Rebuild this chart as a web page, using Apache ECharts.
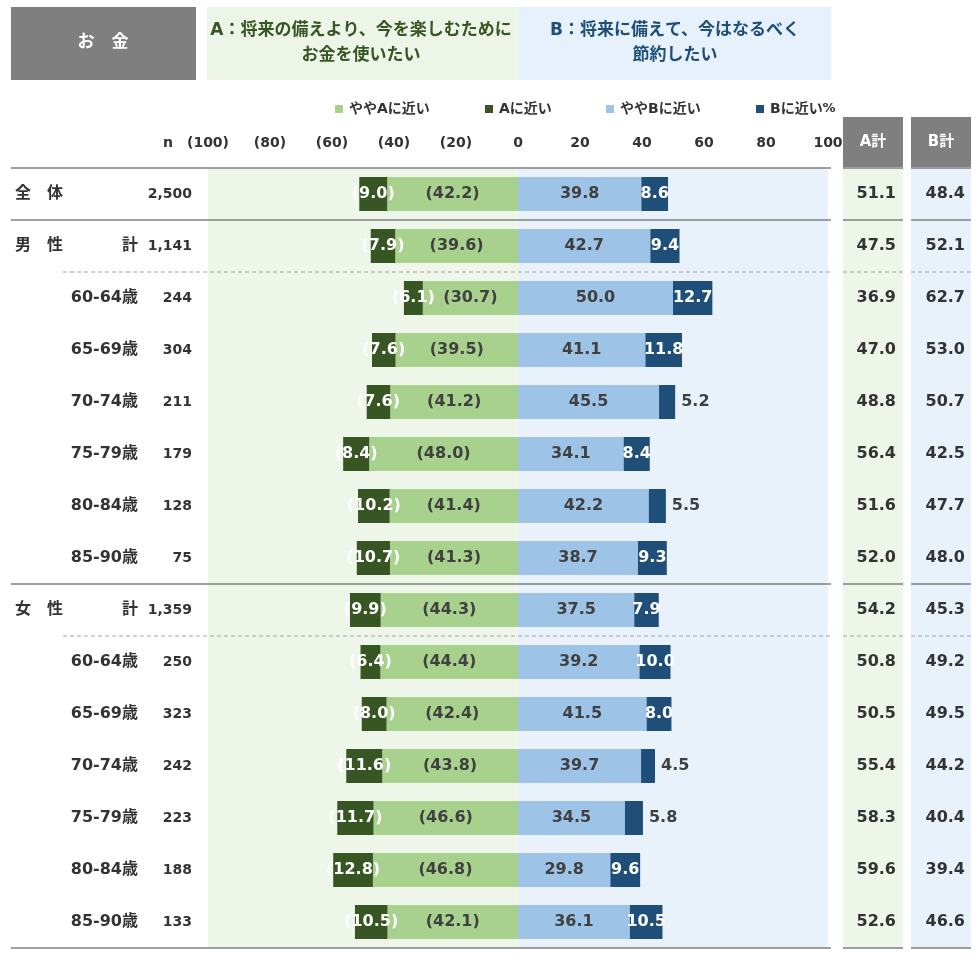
<!DOCTYPE html>
<html>
<head>
<meta charset="utf-8">
<script src="https://cdn.jsdelivr.net/npm/echarts@6/dist/echarts.min.js"></script>
<style>
  html, body { margin: 0; background: #fff; }
  #chart { width: 980px; height: 964px; }
</style>
</head>
<body>
<div id="chart"></div>
<script>
// 行の定義
const rowKeys = ['全体', '男性計', '男性60-64歳', '男性65-69歳', '男性70-74歳', '男性75-79歳', '男性80-84歳', '男性85-90歳',
  '女性計', '女性60-64歳', '女性65-69歳', '女性70-74歳', '女性75-79歳', '女性80-84歳', '女性85-90歳'];
const groupLabels = ['全　体', '男　性', '', '', '', '', '', '', '女　性', '', '', '', '', '', ''];
const subLabels = ['', '計', '60-64歳', '65-69歳', '70-74歳', '75-79歳', '80-84歳', '85-90歳',
  '計', '60-64歳', '65-69歳', '70-74歳', '75-79歳', '80-84歳', '85-90歳'];
const nLabels = ['2,500', '1,141', '244', '304', '211', '179', '128', '75', '1,359', '250', '323', '242', '223', '188', '133'];

// 値（%）
const nearA   = [9.0, 7.9, 6.1, 7.6, 7.6, 8.4, 10.2, 10.7, 9.9, 6.4, 8.0, 11.6, 11.7, 12.8, 10.5];
const slightA = [42.2, 39.6, 30.7, 39.5, 41.2, 48.0, 41.4, 41.3, 44.3, 44.4, 42.4, 43.8, 46.6, 46.8, 42.1];
const slightB = [39.8, 42.7, 50.0, 41.1, 45.5, 34.1, 42.2, 38.7, 37.5, 39.2, 41.5, 39.7, 34.5, 29.8, 36.1];
const nearB   = [8.6, 9.4, 12.7, 11.8, 5.2, 8.4, 5.5, 9.3, 7.9, 10.0, 8.0, 4.5, 5.8, 9.6, 10.5];
const totalA  = [51.1, 47.5, 36.9, 47.0, 48.8, 56.4, 51.6, 52.0, 54.2, 50.8, 50.5, 55.4, 58.3, 59.6, 52.6];
const totalB  = [48.4, 52.1, 62.7, 53.0, 50.7, 42.5, 47.7, 48.0, 45.3, 49.2, 49.5, 44.2, 40.4, 39.4, 46.6];

const xTickLabels = ['(100)', '(80)', '(60)', '(40)', '(20)', '0', '20', '40', '60', '80', '100'];

const FONT = "'DejaVu Sans', 'Noto Sans CJK JP', sans-serif";
const C_LA = '#a9d18e', C_DA = '#375623', C_LB = '#9dc3e6', C_DB = '#1f4e79';
const BG_A = '#eef5e9', BG_B = '#e9f2fb';

// レイアウト
const TOP = 168, ROW_H = 52, N_ROWS = rowKeys.length;
const BOTTOM = TOP + ROW_H * N_ROWS;

const chart = echarts.init(document.getElementById('chart'));

const hideAxis = { axisLine: { show: false }, axisTick: { show: false }, splitLine: { show: false } };
const yAxisWith = (arr, position, margin, align, extra) => Object.assign({
  type: 'category', data: rowKeys, inverse: true, position: position,
  gridIndex: 0,
  axisLabel: Object.assign({
    interval: 0, margin: margin, align: align,
    fontFamily: FONT, fontSize: 16, fontWeight: 'bold', color: '#333',
    formatter: (v, i) => arr[i]
  }, extra || {})
}, hideAxis);

const barLabel = (color, fmt) => ({
  show: true, position: 'inside', color: color, fontFamily: FONT,
  fontSize: 16, fontWeight: 'bold', formatter: fmt
});
const negFmt = p => '(' + Math.abs(p.value).toFixed(1) + ')';
const posFmt = p => Number(p.value).toFixed(1);

// 区切り線
const lines = [];
const segs = [[11, 831], [843, 903], [911, 971]];
const addLine = (y, dashed) => {
  segs.forEach((s, k) => {
    const x1 = (dashed && k === 0) ? 63 : s[0];
    lines.push({
      type: 'line', z: 10,
      shape: { x1: x1, y1: y, x2: s[1], y2: y },
      style: dashed ? { stroke: '#a6a6a6', lineWidth: 1.2, lineDash: [4, 3] } : { stroke: '#808080', lineWidth: 1.4 }
    });
  });
};
addLine(TOP, false);
addLine(TOP + ROW_H, false);
addLine(TOP + ROW_H * 2, true);
addLine(TOP + ROW_H * 8, false);
addLine(TOP + ROW_H * 9, true);
addLine(BOTTOM, false);

const txt = (text, x, y, fill, font, align) => ({
  type: 'text', z: 11,
  style: { text: text, x: x, y: y, fill: fill, font: font, textAlign: align || 'center', textVerticalAlign: 'middle', align: align || 'center', verticalAlign: 'middle' }
});

const graphics = [
  // ヘッダー
  { type: 'rect', shape: { x: 11, y: 7, width: 185, height: 73 }, style: { fill: '#7f7f7f' } },
  txt('お　金', 103, 43, '#fff', "bold 17px " + FONT),
  { type: 'rect', shape: { x: 207, y: 7, width: 312, height: 73 }, style: { fill: '#edf5e8' } },
  txt('A：将来の備えより、今を楽しむために', 361, 31, C_DA, "bold 17px " + FONT),
  txt('お金を使いたい', 361, 56, C_DA, "bold 17px " + FONT),
  { type: 'rect', shape: { x: 519, y: 7, width: 312, height: 73 }, style: { fill: '#e7f1fb' } },
  txt('B：将来に備えて、今はなるべく', 675, 31, C_DB, "bold 17px " + FONT),
  txt('節約したい', 675, 56, C_DB, "bold 17px " + FONT),
  txt('n', 168, 143, '#333', "bold 14px " + FONT),
  txt('%', 829, 109, '#333', "bold 13px " + FONT),
  // A計・B計の列
  { type: 'rect', shape: { x: 843, y: 117, width: 60, height: 50 }, style: { fill: '#7f7f7f' } },
  txt('A計', 873, 142, '#fff', "bold 15px " + FONT),
  { type: 'rect', shape: { x: 911, y: 117, width: 60, height: 50 }, style: { fill: '#7f7f7f' } },
  txt('B計', 941, 142, '#fff', "bold 15px " + FONT),
  { type: 'rect', z: -1, shape: { x: 843, y: TOP, width: 60, height: BOTTOM - TOP }, style: { fill: BG_A } },
  { type: 'rect', z: -1, shape: { x: 911, y: TOP, width: 60, height: BOTTOM - TOP }, style: { fill: BG_B } }
].concat(lines);

const legendAt = (name, left) => ({
  data: [name], left: left, top: 102, padding: 0,
  icon: 'rect', itemWidth: 8, itemHeight: 8, itemGap: 0,
  textStyle: { fontFamily: FONT, fontSize: 14, fontWeight: 'bold', color: '#333', padding: [0, 0, 0, 1] }
});

const option = {
  animation: false,
  textStyle: { fontFamily: FONT },
  legend: [
    legendAt('ややAに近い', 335),
    legendAt('Aに近い', 485),
    legendAt('ややBに近い', 606),
    legendAt('Bに近い', 756)
  ],
  grid: { left: 208, right: 152, top: TOP, height: BOTTOM - TOP, containLabel: false },
  xAxis: Object.assign({
    type: 'value', position: 'top', min: -100, max: 100, interval: 20,
    axisLabel: {
      margin: 18, fontFamily: FONT, fontSize: 14, fontWeight: 'bold', color: '#333',
      formatter: v => xTickLabels[Math.round((v + 100) / 20)]
    }
  }, hideAxis),
  yAxis: [
    yAxisWith(nLabels, 'left', 16, 'right', { fontSize: 14 }),
    yAxisWith(subLabels, 'left', 70, 'right'),
    yAxisWith(groupLabels, 'left', 193, 'left'),
    yAxisWith(totalA.map(v => v.toFixed(1)), 'right', 68, 'right'),
    yAxisWith(totalB.map(v => v.toFixed(1)), 'right', 137, 'right')
  ],
  graphic: graphics,
  series: [
    {
      name: 'ややAに近い', type: 'bar', stack: 'all', barWidth: 34,
      data: slightA.map(v => -v),
      itemStyle: { color: C_LA },
      label: barLabel('#404040', negFmt),
      markArea: {
        silent: true,
        data: [
          [{ xAxis: -100, itemStyle: { color: BG_A } }, { xAxis: 0 }],
          [{ xAxis: 0, itemStyle: { color: BG_B } }, { xAxis: 100 }]
        ]
      }
    },
    {
      name: 'Aに近い', type: 'bar', stack: 'all', barWidth: 34,
      data: nearA.map(v => -v),
      itemStyle: { color: C_DA },
      label: barLabel('#fff', negFmt)
    },
    {
      name: 'ややBに近い', type: 'bar', stack: 'all', barWidth: 34,
      data: slightB,
      itemStyle: { color: C_LB },
      label: barLabel('#404040', posFmt)
    },
    {
      name: 'Bに近い', type: 'bar', stack: 'all', barWidth: 34,
      data: nearB.map(v => v < 7 ? { value: v, label: { position: 'right', distance: 6, color: '#404040' } } : v),
      itemStyle: { color: C_DB },
      label: barLabel('#fff', posFmt)
    }
  ]
};

chart.setOption(option);
</script>
</body>
</html>
